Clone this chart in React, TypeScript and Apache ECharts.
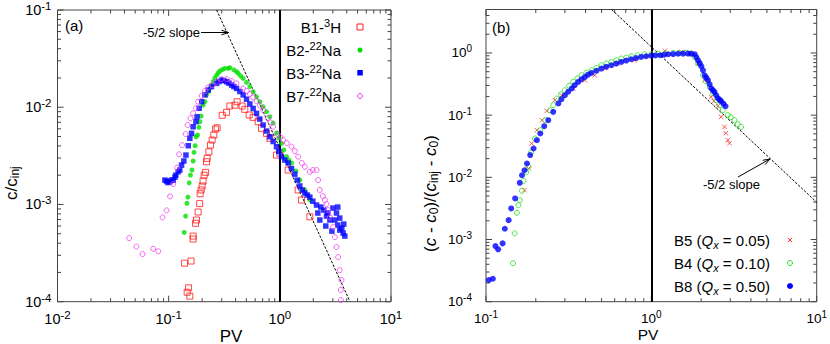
import React, { useEffect, useRef } from 'react';
import * as echarts from 'echarts';

const FONT = '"Liberation Sans", Arial, Helvetica, sans-serif';

// ---------- Panel (a): c / c_inj vs PV ----------
const b1H3: number[][] = [
  [0.139, 2.49e-4], [0.1467, 1.25e-4], [0.151, 1.39e-4], [0.155, 1.14e-4], [0.159, 2.62e-4],
  [0.166, 4.73e-4], [0.166, 4.41e-4], [0.1746, 6.4e-4], [0.178, 6.92e-4], [0.184, 8.36e-4],
  [0.19, 1.02e-3], [0.192, 1.29e-3], [0.196, 1.41e-3], [0.2, 1.55e-3], [0.204, 1.74e-3],
  [0.2085, 2.0e-3], [0.215, 2.14e-3], [0.219, 2.75e-3], [0.222, 2.98e-3], [0.23, 3.48e-3],
  [0.238, 4.08e-3], [0.246, 4.6e-3], [0.255, 5.18e-3], [0.264, 5.97e-3], [0.273, 6.15e-3],
  [0.303, 8.26e-3], [0.332, 8.87e-3], [0.355, 1.03e-2], [0.394, 1.05e-2], [0.413, 1.14e-2],
  [0.458, 1.03e-2], [0.484, 9.51e-3], [0.53, 8.32e-3], [0.575, 7.87e-3], [0.638, 7.1e-3],
  [0.684, 6.07e-3], [0.759, 5.39e-3], [0.813, 4.79e-3], [0.934, 3.22e-3], [1.0, 3.36e-3],
  [1.188, 2.26e-3], [1.461, 1.41e-3], [1.567, 1.11e-3], [1.862, 7.47e-4],
];

const b2Na22: number[][] = [
  [0.138, 5.16e-4], [0.142, 7.6e-4], [0.146, 1.03e-3], [0.149, 1.19e-3], [0.153, 1.67e-3],
  [0.157, 2.0e-3], [0.162, 2.26e-3], [0.166, 2.8e-3], [0.169, 3.44e-3], [0.173, 4.02e-3],
  [0.176, 4.97e-3], [0.182, 5.18e-3], [0.187, 6.21e-3], [0.191, 7.1e-3], [0.196, 8.11e-3],
  [0.204, 1.05e-2], [0.212, 1.14e-2], [0.219, 1.34e-2], [0.227, 1.45e-2], [0.235, 1.56e-2],
  [0.243, 1.69e-2], [0.251, 1.83e-2], [0.26, 2.0e-2], [0.27, 2.14e-2], [0.279, 2.25e-2],
  [0.289, 2.36e-2], [0.304, 2.44e-2], [0.32, 2.51e-2], [0.343, 2.51e-2], [0.355, 2.55e-2],
  [0.386, 2.42e-2], [0.408, 2.32e-2], [0.422, 2.23e-2], [0.444, 2.1e-2], [0.468, 1.98e-2],
  [0.502, 1.8e-2], [0.537, 1.63e-2], [0.575, 1.44e-2], [0.617, 1.28e-2], [0.661, 1.14e-2],
  [0.708, 1.01e-2], [0.759, 9.0e-3], [0.813, 7.98e-3], [0.871, 6.87e-3], [0.934, 5.43e-3],
  [0.979, 4.82e-3], [1.036, 4.25e-3], [1.086, 3.63e-3], [1.149, 3.1e-3], [1.205, 2.86e-3],
  [1.274, 2.67e-3], [1.393, 2.21e-3], [1.513, 1.78e-3], [1.678, 1.41e-3], [1.862, 1.11e-3],
];

const b3Na22: number[][] = [
  [0.0925, 1.78e-3], [0.0958, 1.74e-3], [0.0984, 1.68e-3], [0.1025, 1.71e-3], [0.106, 1.78e-3],
  [0.11, 1.78e-3], [0.114, 1.91e-3], [0.116, 2.0e-3], [0.1217, 2.17e-3], [0.126, 2.26e-3],
  [0.1306, 2.54e-3], [0.137, 2.8e-3], [0.143, 3.22e-3], [0.15, 4.02e-3], [0.155, 4.79e-3],
  [0.1607, 5.39e-3], [0.166, 6.3e-3], [0.176, 7.1e-3], [0.18, 7.98e-3], [0.188, 9.75e-3],
  [0.198, 1.14e-2], [0.212, 1.34e-2], [0.227, 1.5e-2], [0.243, 1.63e-2], [0.27, 1.76e-2],
  [0.283, 1.84e-2], [0.299, 1.9e-2], [0.313, 1.88e-2], [0.332, 1.83e-2], [0.348, 1.77e-2],
  [0.368, 1.69e-2], [0.386, 1.63e-2], [0.408, 1.56e-2], [0.437, 1.45e-2], [0.468, 1.34e-2],
  [0.502, 1.21e-2], [0.537, 1.08e-2], [0.575, 9.7e-3], [0.617, 8.65e-3], [0.661, 7.56e-3],
  [0.708, 6.56e-3], [0.759, 5.69e-3], [0.813, 4.97e-3], [0.871, 4.44e-3], [0.934, 3.93e-3],
  [0.979, 3.5e-3], [1.036, 3.1e-3], [1.109, 2.86e-3], [1.188, 2.67e-3], [1.274, 2.34e-3],
  [1.364, 2.05e-3], [1.437, 1.78e-3], [1.513, 1.55e-3], [1.593, 1.41e-3], [1.678, 1.31e-3],
  [1.767, 1.25e-3], [1.862, 1.19e-3], [1.981, 1.08e-3], [2.138, 9.86e-4], [2.197, 8.17e-4],
  [2.29, 6.92e-4], [2.337, 9.4e-4], [2.488, 8.75e-4], [2.59, 6.0e-4], [2.63, 7.6e-4],
  [2.7, 8.17e-4], [2.818, 6.92e-4], [2.94, 5.32e-4], [3.0, 9.18e-4], [3.12, 6.92e-4],
  [3.235, 8.17e-4], [3.32, 6.14e-4], [3.32, 9.4e-4], [3.46, 5.45e-4], [3.46, 7.24e-4],
  [3.61, 5.71e-4], [3.71, 5.08e-4], [3.76, 6.28e-4], [3.84, 4.73e-4],
];

const b7Na22: number[][] = [
  [0.0441, 4.51e-4], [0.0513, 3.69e-4], [0.0582, 3.09e-4], [0.0726, 3.5e-4], [0.0805, 3.3e-4],
  [0.0881, 7.36e-4], [0.0958, 8.69e-4], [0.103, 1.21e-3], [0.11, 1.62e-3], [0.119, 2.39e-3],
  [0.124, 3.28e-3], [0.132, 4.08e-3], [0.142, 5.3e-3], [0.148, 6.56e-3], [0.157, 7.69e-3],
  [0.166, 8.65e-3], [0.176, 9.75e-3], [0.184, 1.14e-2], [0.198, 1.31e-2], [0.212, 1.47e-2],
  [0.227, 1.6e-2], [0.248, 1.69e-2], [0.27, 1.83e-2], [0.299, 1.95e-2], [0.332, 1.95e-2],
  [0.368, 1.86e-2], [0.408, 1.76e-2], [0.468, 1.56e-2], [0.505, 1.47e-2], [0.537, 1.37e-2],
  [0.575, 1.26e-2], [0.617, 1.16e-2], [0.661, 1.04e-2], [0.708, 9.36e-3], [0.78, 7.74e-3],
  [0.825, 6.97e-3], [0.871, 6.3e-3], [0.959, 5.3e-3], [1.014, 4.93e-3], [1.071, 4.6e-3],
  [1.156, 4.28e-3], [1.274, 3.93e-3], [1.364, 3.54e-3], [1.461, 3.1e-3], [1.578, 2.67e-3],
  [1.678, 2.44e-3], [1.862, 2.17e-3], [1.981, 2.26e-3], [2.138, 2.26e-3], [2.209, 1.78e-3],
  [2.29, 1.41e-3], [2.436, 1.22e-3], [2.54, 1.11e-3], [2.63, 1.01e-3], [2.717, 8.75e-4],
  [2.818, 7.41e-4], [3.015, 5.85e-4], [3.124, 4.62e-4], [3.235, 3.65e-4], [3.345, 2.88e-4],
  [3.46, 2.11e-4], [3.59, 1.67e-4], [3.54, 1.32e-4], [3.54, 1.04e-4],
];

// -5/2 slope guide line of panel (a)
const slopeA: number[][] = [[0.27, 0.1], [4.28, 1e-4]];

// ---------- Panel (b): (c - c0)/(c_inj - c0) vs PV ----------
const b5Q005: number[][] = [
  [0.171, 6.23e-3], [0.181, 1.39e-2], [0.189, 3.5e-2], [0.203, 5.73e-2], [0.218, 8.3e-2],
  [0.233, 0.117], [0.261, 0.174], [0.287, 0.209], [0.337, 0.268], [0.396, 0.364],
  [0.455, 0.438], [0.53, 0.568], [0.628, 0.676], [0.791, 0.764], [0.95, 0.885],
  [1.208, 1.077], [1.521, 1.038], [1.708, 1.0], [1.916, 0.676], [2.1, 0.364],
  [2.3, 0.196], [2.39, 0.168], [2.53, 0.139], [2.64, 0.0937], [2.77, 0.0648],
  [2.82, 0.0513], [2.9, 0.0396], [2.97, 0.0354],
];

const b4Q010: number[][] = [
  [0.1457, 4.14e-4], [0.149, 1.26e-3], [0.154, 2.69e-3], [0.157, 3.57e-3], [0.16, 4.3e-3],
  [0.165, 6.07e-3], [0.169, 8.79e-3], [0.175, 1.21e-2], [0.181, 1.48e-2], [0.1875, 2.54e-2],
  [0.198, 4.22e-2], [0.213, 5.73e-2], [0.228, 8.3e-2], [0.244, 0.12], [0.255, 0.145],
  [0.268, 0.185], [0.284, 0.217], [0.3, 0.252], [0.318, 0.297], [0.337, 0.342],
  [0.357, 0.39], [0.378, 0.438], [0.405, 0.481], [0.435, 0.527], [0.466, 0.578],
  [0.499, 0.634], [0.534, 0.676], [0.573, 0.717], [0.614, 0.764], [0.658, 0.813],
  [0.705, 0.847], [0.755, 0.885], [0.824, 0.918], [0.908, 0.953], [1.0, 0.953],
  [1.102, 0.971], [1.213, 0.989], [1.355, 1.0], [1.473, 1.004], [1.622, 1.007],
  [1.746, 0.978], [1.837, 0.853], [1.916, 0.676], [2.052, 0.438], [2.139, 0.351],
  [2.252, 0.284], [2.357, 0.225], [2.467, 0.174], [2.596, 0.145], [2.705, 0.12],
  [2.9, 0.0998], [3.02, 0.0927], [3.18, 0.083], [3.33, 0.0716], [3.49, 0.0648],
];

const b8Q050: number[][] = [
  [0.104, 2.23e-4], [0.11, 2.34e-4], [0.114, 7.85e-4], [0.1184, 6.95e-4], [0.126, 8.67e-4],
  [0.13, 1.49e-3], [0.137, 2.05e-3], [0.142, 3.16e-3], [0.15, 4.58e-3], [0.16, 8.16e-3],
  [0.165, 1.08e-2], [0.171, 1.3e-2], [0.177, 1.67e-2], [0.185, 2.28e-2], [0.194, 2.91e-2],
  [0.203, 3.96e-2], [0.213, 5.07e-2], [0.225, 6.64e-2], [0.238, 8.3e-2], [0.255, 0.113],
  [0.274, 0.154], [0.286, 0.18], [0.3, 0.209], [0.314, 0.238], [0.33, 0.268],
  [0.344, 0.303], [0.361, 0.342], [0.378, 0.378], [0.396, 0.411], [0.414, 0.447],
  [0.435, 0.477], [0.466, 0.518], [0.499, 0.561], [0.534, 0.6], [0.573, 0.634],
  [0.614, 0.676], [0.658, 0.717], [0.705, 0.755], [0.755, 0.792], [0.809, 0.828],
  [0.867, 0.863], [0.929, 0.885], [1.0, 0.908], [1.057, 0.912], [1.132, 0.918],
  [1.197, 0.936], [1.265, 0.953], [1.355, 0.96], [1.452, 0.971], [1.556, 0.975],
  [1.668, 0.978], [1.746, 0.971], [1.83, 0.953], [1.872, 0.853], [1.916, 0.764],
  [1.961, 0.684], [2.005, 0.611], [2.052, 0.527], [2.1, 0.438], [2.148, 0.4],
  [2.2, 0.364], [2.252, 0.314], [2.3, 0.271], [2.357, 0.252], [2.41, 0.234],
  [2.467, 0.209], [2.53, 0.187], [2.586, 0.177], [2.64, 0.168], [2.727, 0.153],
  [2.81, 0.139],
];

// -5/2 slope guide line of panel (b)
const slopeB: number[][] = [[0.575, 5], [10, 0.00396]];

// axis extents and decade ticks
const axA = { xmin: 0.01, xmax: 10, ymin: 1e-4, ymax: 0.1 };
const axB = { xmin: 0.1, xmax: 10, ymin: 1e-4, ymax: 5 };
const decadesAX = [0.01, 0.1, 1, 10];
const decadesAY = [1e-4, 1e-3, 1e-2, 1e-1];
const decadesBX = [0.1, 1, 10];
const decadesBY = [1e-4, 1e-3, 1e-2, 1e-1, 1];

function tickItems(decX: number[], decY: number[], ax: any) {
  const items: number[][] = [];
  const addAxis = (dec: number[], max: number, isX: boolean) => {
    dec.forEach((d) => {
      if (d <= max * 1.0000001) items.push(isX ? [d, ax.ymin, 0] : [ax.xmin, d, 2]);
      for (let k = 2; k <= 9; k++) {
        const v = k * d;
        if (v <= max * 1.0000001) items.push(isX ? [v, ax.ymin, 1] : [ax.xmin, v, 3]);
      }
    });
  };
  addAxis(decX, ax.xmax, true);
  addAxis(decY, ax.ymax, false);
  return items;
}

function tickSeries(idx: number, ax: any, data: number[][]) {
  return {
    type: 'custom',
    xAxisIndex: idx,
    yAxisIndex: idx,
    silent: true,
    clip: false,
    z: 1,
    data,
    encode: { x: 0, y: 1 },
    renderItem: (params: any, api: any) => {
      const kind = api.value(2);
      const len = kind % 2 === 0 ? 6 : 3.5;
      const style = { stroke: '#444', lineWidth: 1 };
      if (kind < 2) {
        const v = api.value(0);
        const b = api.coord([v, ax.ymin]);
        const t = api.coord([v, ax.ymax]);
        return {
          type: 'group',
          children: [
            { type: 'line', shape: { x1: b[0], y1: b[1], x2: b[0], y2: b[1] - len }, style },
            { type: 'line', shape: { x1: t[0], y1: t[1], x2: t[0], y2: t[1] + len }, style },
          ],
        };
      }
      const v = api.value(1);
      const l = api.coord([ax.xmin, v]);
      const r = api.coord([ax.xmax, v]);
      return {
        type: 'group',
        children: [
          { type: 'line', shape: { x1: l[0], y1: l[1], x2: l[0] + len, y2: l[1] }, style },
          { type: 'line', shape: { x1: r[0], y1: r[1], x2: r[0] - len, y2: r[1] }, style },
        ],
      };
    },
  };
}

function makeRich(base: number, sup: number, lh: number, slh: number) {
  return {
    b: { fontSize: base, lineHeight: lh, fontFamily: FONT, color: '#000' },
    s: { fontSize: sup, lineHeight: slh, verticalAlign: 'top', fontFamily: FONT, color: '#000' },
  };
}

function powLabel(v: number) {
  const lg = Math.log10(v);
  const e = Math.round(lg);
  if (Math.abs(lg - e) > 1e-6) return '';
  return '{b|10}{s|' + e + '}';
}

function logAxis(gridIndex: number, min: number, max: number, margin: number, rich: any) {
  return {
    type: 'log',
    logBase: 10,
    gridIndex,
    min,
    max,
    axisLine: { show: false },
    axisTick: { show: false },
    splitLine: { show: false },
    minorTick: { show: false },
    axisLabel: {
      formatter: powLabel,
      rich,
      margin,
      showMinLabel: true,
      showMaxLabel: true,
    },
  };
}

const crossPath = 'path://M0 0L10 10M10 0L0 10';

function txt(x: number, y: number, text: string, extra: any = {}) {
  return {
    type: 'text',
    x,
    y,
    z: 100,
    style: {
      text,
      fontFamily: FONT,
      fontSize: 15,
      fill: '#000',
      align: 'left',
      verticalAlign: 'middle',
      ...extra,
    },
  };
}

function richText(base: number, small: number) {
  return {
    b: { fontSize: base, lineHeight: 20, fontFamily: FONT, fill: '#000' },
    s: { fontSize: small, lineHeight: 10, verticalAlign: 'top', fontFamily: FONT, fill: '#000' },
    i: { fontSize: base, lineHeight: 20, fontStyle: 'italic', fontFamily: FONT, fill: '#000' },
    is: { fontSize: small, lineHeight: 10, verticalAlign: 'bottom', fontStyle: 'italic', fontFamily: FONT, fill: '#000' },
    sub: { fontSize: small, lineHeight: 10, verticalAlign: 'bottom', fontFamily: FONT, fill: '#000' },
  };
}

const richLegend = richText(15, 11);
const richName = richText(17, 12);

export default function App() {
  const ref = useRef<HTMLDivElement>(null);

  useEffect(() => {
    if (!ref.current) return;
    const chart = echarts.init(ref.current, undefined, { renderer: 'svg' });

    const markX1 = {
      silent: true,
      symbol: 'none',
      label: { show: false },
      lineStyle: { color: '#000', width: 2, type: 'solid' },
      data: [{ xAxis: 1 }],
    };

    const richA = makeRich(14.5, 11.5, 20, 10);
    const richB = makeRich(13.5, 10, 18, 9);

    const option: any = {
      animation: false,
      backgroundColor: '#fff',
      textStyle: { fontFamily: FONT },
      grid: [
        { left: 57.5, top: 10, width: 333.5, height: 291.7, show: true, borderColor: '#444', borderWidth: 1 },
        { left: 486, top: 9.5, width: 333.5, height: 292.2, show: true, borderColor: '#444', borderWidth: 1 },
      ],
      xAxis: [logAxis(0, axA.xmin, axA.xmax, 7, richA), logAxis(1, axB.xmin, axB.xmax, 8, richB)],
      yAxis: [logAxis(0, axA.ymin, axA.ymax, 6, richA), logAxis(1, axB.ymin, axB.ymax, 14, richB)],
      series: [
        tickSeries(0, axA, tickItems(decadesAX, decadesAY, axA)),
        tickSeries(1, axB, tickItems(decadesBX, decadesBY, axB)),
        {
          name: 'slopeA', type: 'line', xAxisIndex: 0, yAxisIndex: 0, data: slopeA,
          symbol: 'none', z: 3,
          lineStyle: { color: '#000', width: 1, type: [2.5, 1.5] },
          markLine: markX1,
        },
        {
          name: 'B1-3H', type: 'scatter', xAxisIndex: 0, yAxisIndex: 0, data: b1H3,
          symbol: 'rect', symbolSize: 6, z: 4,
          itemStyle: { color: 'rgba(0,0,0,0)', borderColor: '#ff1a1a', borderWidth: 1 },
        },
        {
          name: 'B2-22Na', type: 'scatter', xAxisIndex: 0, yAxisIndex: 0, data: b2Na22,
          symbol: 'circle', symbolSize: 5, z: 5,
          itemStyle: { color: '#00e000' },
        },
        {
          name: 'B3-22Na', type: 'scatter', xAxisIndex: 0, yAxisIndex: 0, data: b3Na22,
          symbol: 'rect', symbolSize: 5.5, z: 6,
          itemStyle: { color: '#0000ff' },
        },
        {
          name: 'B7-22Na', type: 'scatter', xAxisIndex: 0, yAxisIndex: 0, data: b7Na22,
          symbol: 'circle', symbolSize: 5, z: 7,
          itemStyle: { color: 'rgba(0,0,0,0)', borderColor: '#f040f0', borderWidth: 1 },
        },
        {
          name: 'slopeB', type: 'line', xAxisIndex: 1, yAxisIndex: 1, data: slopeB,
          symbol: 'none', z: 3,
          lineStyle: { color: '#000', width: 1, type: [2.5, 1.5] },
          markLine: markX1,
        },
        {
          name: 'B5', type: 'scatter', xAxisIndex: 1, yAxisIndex: 1, data: b5Q005,
          symbol: crossPath, symbolSize: 4.5, z: 4,
          itemStyle: { color: 'rgba(0,0,0,0)', borderColor: '#ff3030', borderWidth: 1 },
        },
        {
          name: 'B4', type: 'scatter', xAxisIndex: 1, yAxisIndex: 1, data: b4Q010,
          symbol: 'circle', symbolSize: 5, z: 5,
          itemStyle: { color: 'rgba(0,0,0,0)', borderColor: '#20e020', borderWidth: 1 },
        },
        {
          name: 'B8', type: 'scatter', xAxisIndex: 1, yAxisIndex: 1, data: b8Q050,
          symbol: 'circle', symbolSize: 6, z: 6,
          itemStyle: { color: '#0000ff' },
        },
      ],
      graphic: [
        // panel labels
        txt(65, 25, '(a)'),
        txt(492, 27, '(b)'),
        // axis titles
        txt(231, 336, 'PV', { align: 'center', fontSize: 17 }),
        txt(648, 334, 'PV', { align: 'center', fontSize: 15.5 }),
        {
          type: 'text', x: 11, y: 200, rotation: Math.PI / 2, z: 100,
          style: {
            text: '{b|c/c}{sub|inj}', align: 'left', verticalAlign: 'middle',
            rich: richName, fontFamily: FONT, fontSize: 17,
          },
        },
        {
          type: 'text', x: 430, y: 252, rotation: Math.PI / 2, z: 100,
          style: {
            text: '{b|(}{i|c}{b| - }{i|c}{sub|0}{b|)/(}{i|c}{sub|inj}{b| - }{i|c}{sub|0}{b|)}',
            align: 'left', verticalAlign: 'middle',
            rich: richName, fontFamily: FONT, fontSize: 17,
          },
        },
        // legend (a)
        txt(341, 27, '{b|B1-}{s|3}{b|H}', { align: 'right', rich: richLegend }),
        txt(341, 50, '{b|B2-}{s|22}{b|Na}', { align: 'right', rich: richLegend }),
        txt(341, 73, '{b|B3-}{s|22}{b|Na}', { align: 'right', rich: richLegend }),
        txt(341, 96, '{b|B7-}{s|22}{b|Na}', { align: 'right', rich: richLegend }),
        { type: 'rect', z: 100, shape: { x: 357, y: 24, width: 6, height: 6 }, style: { fill: 'none', stroke: '#ff1a1a', lineWidth: 1 } },
        { type: 'circle', z: 100, shape: { cx: 360, cy: 50, r: 2.5 }, style: { fill: '#00e000' } },
        { type: 'rect', z: 100, shape: { x: 357.3, y: 70, width: 5.5, height: 5.5 }, style: { fill: '#0000ff' } },
        { type: 'circle', z: 100, shape: { cx: 360, cy: 96, r: 2.5 }, style: { fill: 'none', stroke: '#f040f0', lineWidth: 1 } },
        // legend (b)
        txt(770, 240, '{b|B5 (}{i|Q}{is|x}{b| = 0.05)}', { align: 'right', rich: richLegend }),
        txt(770, 263, '{b|B4 (}{i|Q}{is|x}{b| = 0.10)}', { align: 'right', rich: richLegend }),
        txt(770, 286, '{b|B8 (}{i|Q}{is|x}{b| = 0.50)}', { align: 'right', rich: richLegend }),
        { type: 'line', z: 100, shape: { x1: 787.8, y1: 237.8, x2: 792.2, y2: 242.2 }, style: { stroke: '#ff3030', lineWidth: 1 } },
        { type: 'line', z: 100, shape: { x1: 792.2, y1: 237.8, x2: 787.8, y2: 242.2 }, style: { stroke: '#ff3030', lineWidth: 1 } },
        { type: 'circle', z: 100, shape: { cx: 790, cy: 263, r: 2.5 }, style: { fill: 'none', stroke: '#20e020', lineWidth: 1 } },
        { type: 'circle', z: 100, shape: { cx: 790, cy: 286, r: 3 }, style: { fill: '#0000ff' } },
        // annotations
        txt(200, 32.5, '-5/2 slope', { align: 'right', fontSize: 13 }),
        { type: 'line', z: 100, shape: { x1: 201, y1: 32.5, x2: 228.5, y2: 32.5 }, style: { stroke: '#000', lineWidth: 1 } },
        { type: 'polyline', z: 100, shape: { points: [[221.5, 30.2], [228.5, 32.5], [221.5, 34.8]] }, style: { stroke: '#000', lineWidth: 1, fill: 'none' } },
        txt(731.5, 184, '-5/2 slope', { align: 'center', fontSize: 13 }),
        { type: 'line', z: 100, shape: { x1: 738, y1: 177, x2: 770, y2: 159 }, style: { stroke: '#000', lineWidth: 1 } },
        { type: 'polyline', z: 100, shape: { points: [[765.1, 164.6], [770, 159], [762.7, 160.3]] }, style: { stroke: '#000', lineWidth: 1, fill: 'none' } },
      ],
    };

    chart.setOption(option);
    return () => chart.dispose();
  }, []);

  return (
    <div
      ref={ref}
      style={{ position: 'fixed', left: 0, top: 0, width: 830, height: 344, background: '#fff' }}
    />
  );
}
